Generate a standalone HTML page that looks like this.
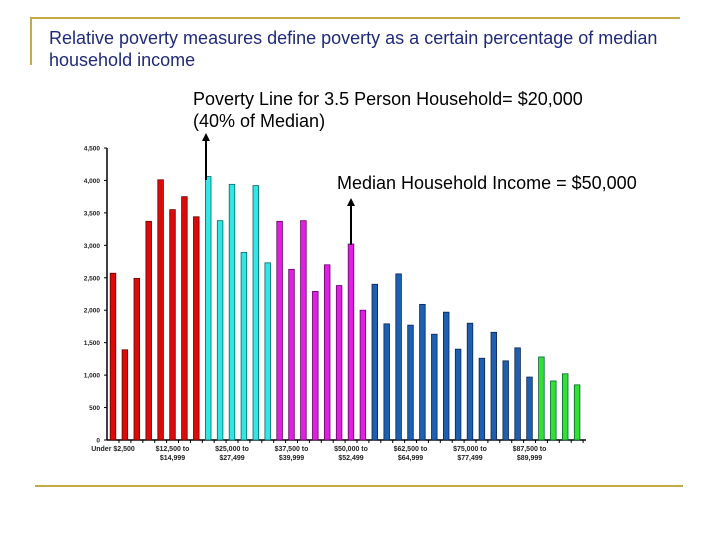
<!DOCTYPE html>
<html><head><meta charset="utf-8"><style>
body{margin:0;width:720px;height:540px;background:#fff;overflow:hidden;font-family:"Liberation Sans",sans-serif;position:relative}
.t{position:absolute;color:#1f2a7a;font-size:18px;left:49px;line-height:22px}
.a{position:absolute;color:#000;font-size:18px;line-height:22px}
</style></head><body>
<div style="position:absolute;left:30px;top:17px;width:650px;height:2px;background:#c2aa4a"></div>
<div style="position:absolute;left:30px;top:17px;width:2px;height:48px;background:#c2aa4a"></div>
<div style="position:absolute;left:35px;top:485px;width:648px;height:2px;background:#c2aa4a"></div>
<div class="t" style="top:27px">Relative poverty measures define poverty as a certain percentage of median<br>household income</div>
<div class="a" style="left:193px;top:88px">Poverty Line for 3.5 Person Household= $20,000<br>(40% of Median)</div>
<div class="a" style="left:337px;top:172px">Median Household Income = $50,000</div>
<svg id="chart" width="720" height="540" style="position:absolute;left:0;top:0"></svg>
<script>
const values=[2570,1390,2490,3370,4010,3550,3750,3440,4060,3380,3940,2890,3920,2730,3370,2630,3380,2290,2700,2380,3020,2000,2400,1790,2560,1770,2090,1630,1970,1400,1800,1260,1660,1220,1420,970,1280,910,1020,850];
const groups=[0,0,0,0,0,0,0,0,1,1,1,1,1,1,2,2,2,2,2,2,2,2,3,3,3,3,3,3,3,3,3,3,3,3,3,3,4,4,4,4];
const yTicks=[0,500,1000,1500,2000,2500,3000,3500,4000,4500];
const yTickLabels=["0","500","1,000","1,500","2,000","2,500","3,000","3,500","4,000","4,500"];
const xLabels=[["Under $2,500",""],["$12,500 to","$14,999"],["$25,000 to","$27,499"],["$37,500 to","$39,999"],["$50,000 to","$52,499"],["$62,500 to","$64,999"],["$75,000 to","$77,499"],["$87,500 to","$89,999"]];
const fills=["#dd0a0a","#33e6e6","#e020e0","#1f5fb0","#33e033"];
const strokes=["#600","#066","#606","#0a2550","#063"];
const svg=document.getElementById('chart');const NS="http://www.w3.org/2000/svg";
const y0=440,ymax=148,vmax=4500;const y=v=>y0-(y0-ymax)*v/vmax;
const x=i=>113+11.9*i;
function mk(t,a){const e=document.createElementNS(NS,t);for(const k in a)e.setAttribute(k,a[k]);svg.appendChild(e);return e;}
let ax=mk('line',{x1:107,y1:y(0),x2:107,y2:y(4500),stroke:'#000','stroke-width':1.5});


let bx=mk('line',{x1:107,y1:y0,x2:586,y2:y0,stroke:'#000','stroke-width':1.5});


yTicks.forEach((v,i)=>{
 mk('line',{x1:104,y1:y(v),x2:107,y2:y(v),stroke:'#000'});
 const t=mk('text',{x:100,y:y(v)+2.5,'text-anchor':'end','font-size':6.5,'font-weight':'bold','font-family':'Liberation Sans, sans-serif',fill:'#222'});
 t.textContent=yTickLabels[i];
 
 
});
values.forEach((v,i)=>{
 const g=groups[i];
 const r=mk('rect',{x:x(i)-2.8,y:y(v),width:5.6,height:y0-y(v),fill:fills[g],stroke:strokes[g],'stroke-width':0.8});
 
 
 mk('line',{x1:x(i)+6,y1:y0,x2:x(i)+6,y2:y0+3,stroke:'#000'});
});
xLabels.forEach((l,k)=>{
 l.forEach((s,j)=>{
  const t=mk('text',{x:x(5*k),y:451+j*9,'text-anchor':'middle','font-size':7,'font-weight':'bold','font-family':'Liberation Sans, sans-serif',fill:'#222'});
  t.textContent=s;
  
  
 });
});
function arrow(px,top,bot,name){
 const l=mk('line',{x1:px,y1:bot,x2:px,y2:top+6,stroke:'#000','stroke-width':2});
 
 
 mk('polygon',{points:`${px-4},${top+8} ${px},${top} ${px+4},${top+8}`,fill:'#000'});
}
arrow(206,133,180,'poverty-line-arrow');
arrow(351,198,245,'median-arrow');
</script>
</body></html>
